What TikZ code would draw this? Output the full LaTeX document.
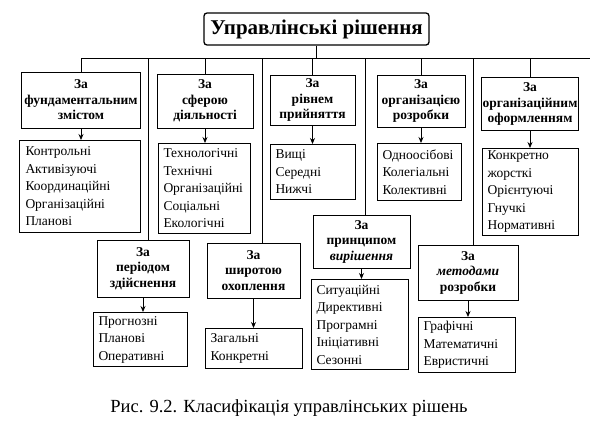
\documentclass[tikz,border=0pt]{standalone}
\usepackage{fontspec}
\setmainfont{Liberation Serif}
\usetikzlibrary{arrows.meta}
\begin{document}
\begin{tikzpicture}[x=1pt,y=-1pt,
  hdr/.style={draw,line width=1pt,align=center,inner sep=1pt,font=\fontsize{13.5}{15.5}\selectfont\bfseries},
  lst/.style={draw,line width=1pt,align=left,anchor=north west,inner sep=0pt,font=\fontsize{13.5}{17.5}\selectfont},
  ln/.style={line width=0.8pt},
  arr/.style={line width=0.8pt,-{Stealth[length=6pt,width=5pt]}}]
\useasboundingbox (0,0) rectangle (600,429);
\node[draw,line width=1.3pt,rounded corners=3pt,minimum width=225,minimum height=32,font=\fontsize{21}{24}\selectfont\bfseries] (root) at (316.5,29) {Управлінські рішення};
% top headers
\node[hdr,minimum width=119,minimum height=56] (b1) at (81,100) {За\\фундаментальним\\змістом};
\node[hdr,minimum width=96,minimum height=54] (b2) at (205,101) {За\\сферою\\діяльності};
\node[hdr,minimum width=85,minimum height=50] (b3) at (312.5,100) {За\\рівнем\\прийняття};
\node[hdr,minimum width=88,minimum height=52] (b4) at (421,101) {За\\організацією\\розробки};
\node[hdr,minimum width=96,minimum height=53] (b5) at (530,104) {За\\організаційним\\оформленням};
% top lists
\node[lst,minimum width=121,minimum height=92] (l1) at (19,140) {\hspace*{4pt}\parbox[c][90pt][c]{113pt}{Контрольні\\Активізуючі\\Координаційні\\Організаційні\\Планові}};
\node[lst,minimum width=92,minimum height=90] (l2) at (158,143) {\hspace*{4pt}\parbox[c][88pt][c]{86pt}{Технологічні\\Технічні\\Організаційні\\Соціальні\\Екологічні}};
\node[lst,minimum width=85,minimum height=55] (l3) at (270,144) {\hspace*{4pt}\parbox[c][53pt][c]{79pt}{Вищі\\Середні\\Нижчі}};
\node[lst,minimum width=84,minimum height=57] (l4) at (377,143) {\hspace*{4pt}\parbox[c][55pt][c]{78pt}{Одноосібові\\Колегіальні\\Колективні}};
\node[lst,minimum width=96,minimum height=87] (l5) at (482,148) {\hspace*{4pt}\parbox[c][85pt][c]{90pt}{Конкретно\\жорсткі\\Орієнтуючі\\Гнучкі\\Нормативні}};
% lower headers
\node[hdr,minimum width=92,minimum height=57] (b6) at (143,268.5) {За\\періодом\\здійснення};
\node[hdr,minimum width=93,minimum height=55] (b7) at (253.5,270.5) {За\\широтою\\охоплення};
\node[hdr,minimum width=97,minimum height=53] (b8) at (361.5,241.5) {За\\принципом\\\textit{вирішення}};
\node[hdr,minimum width=100,minimum height=55] (b9) at (468,272.5) {За\\\textit{методами}\\розробки};
% lower lists
\node[lst,minimum width=94,minimum height=54] (l6) at (93,312) {\hspace*{4pt}\parbox[c][52pt][c]{88pt}{Прогнозні\\Планові\\Оперативні}};
\node[lst,minimum width=97,minimum height=40] (l7) at (205,328) {\hspace*{4pt}\parbox[c][38pt][c]{91pt}{Загальні\\Конкретні}};
\node[lst,minimum width=97,minimum height=90] (l8) at (311,279) {\hspace*{4pt}\parbox[c][88pt][c]{91pt}{Ситуаційні\\Директивні\\Програмні\\Ініціативні\\Сезонні}};
\node[lst,minimum width=97,minimum height=55] (l9) at (418,317) {\hspace*{4pt}\parbox[c][53pt][c]{91pt}{Графічні\\Математичні\\Евристичні}};
% bus
\coordinate (bl) at (81,58);
\coordinate (br) at (590,58);
\coordinate (bm) at (316.5,58);
\draw[ln] (root.south) -- (bm);
\draw[ln] (bl) -- (br);
\foreach \b in {b1,b2,b3,b4,b5} \draw[ln] (\b.north |- bm) -- (\b.north);
\coordinate (d6) at (148,58);
\coordinate (d7) at (262,58);
\coordinate (d8) at (365,58);
\coordinate (d9) at (473,58);
\draw[ln] (d6) -- (d6 |- b6.north);
\draw[ln] (d7) -- (d7 |- b7.north);
\draw[ln] (d8) -- (d8 |- b8.north);
\draw[ln] (d9) -- (d9 |- b9.north);
\foreach \b/\l in {b1/l1,b2/l2,b3/l3,b4/l4,b5/l5,b6/l6,b7/l7,b8/l8,b9/l9}
  \draw[arr] (\b.south) -- (\b.south |- \l.north);
\node[font=\fontsize{18.5}{22}\selectfont] (cap) at (289,408) {Рис. 9.2. Класифікація управлінських рішень};
\end{tikzpicture}
\end{document}
